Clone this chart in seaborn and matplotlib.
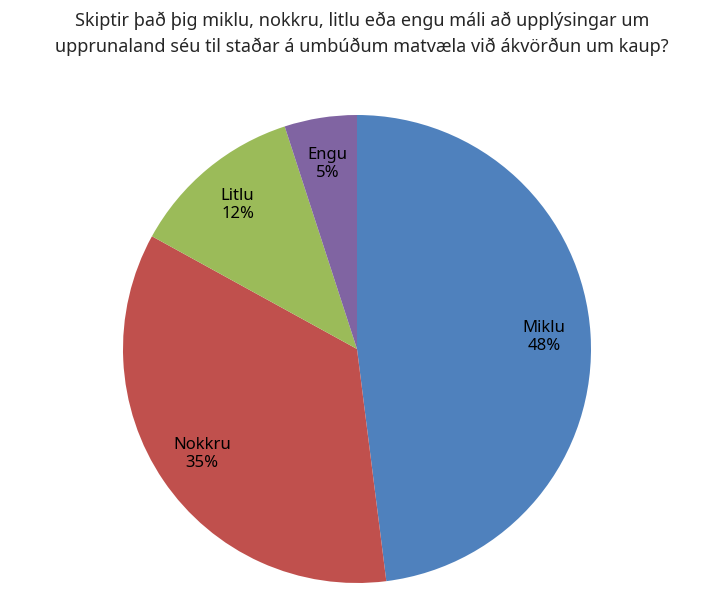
import matplotlib
matplotlib.use("Agg")
import matplotlib.pyplot as plt
import seaborn as sns

categories = ["Miklu", "Nokkru", "Litlu", "Engu"]
values = [48, 35, 12, 5]
colors = ["#4F81BD", "#C0504D", "#9BBB59", "#8064A2"]

sns.set_theme(style="white")
plt.rcParams['font.family'] = ['Noto Sans', 'DejaVu Sans']

fig = plt.figure(figsize=(7.24, 6.01), dpi=100)
ax = fig.add_axes([(357-234)/724, 18/601, 468/724, 468/601])
labels = [f"{c}\n{v}%" for c, v in zip(categories, values)]
wedges, texts = ax.pie(values, colors=colors, startangle=90, counterclock=False,
                       labels=labels, labeldistance=0.8,
                       textprops=dict(fontsize=12, ha="center", va="center", color="black"),
                       wedgeprops=dict(linewidth=0))
for t in texts:
    t.set_horizontalalignment("center")
    t.set_multialignment("center")
ax.set_aspect("equal")
ax.set_xlim(-1, 1); ax.set_ylim(-1, 1)
fig.text(0.5, 1-34/601, "Skiptir það þig miklu, nokkru, litlu eða engu máli að upplýsingar um\nupprunaland séu til staðar á umbúðum matvæla við ákvörðun um kaup?",
         ha="center", va="center", fontsize=13, linespacing=1.5)
fig.savefig("out.png", dpi=100)
